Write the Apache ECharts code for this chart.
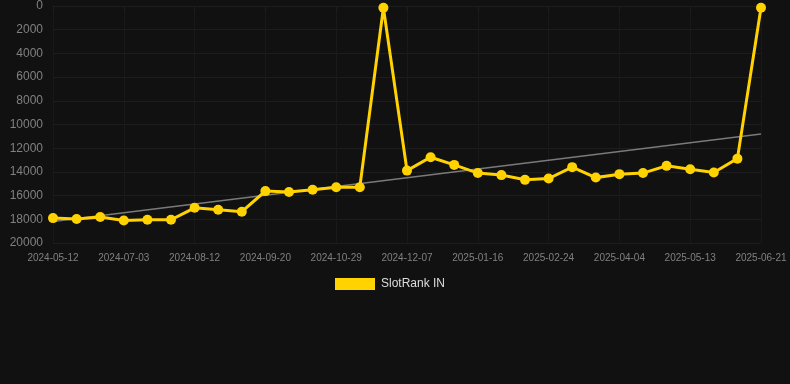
<!DOCTYPE html>
<html>
<head>
<meta charset="utf-8">
<script src="https://cdn.jsdelivr.net/npm/echarts@6/dist/echarts.min.js"></script>
<style>
  html, body { margin: 0; padding: 0; background: #111111; }
  #chart { width: 790px; height: 384px; }
</style>
</head>
<body>
<div id="chart"></div>
<script>
// dates on the x axis (every third one is labelled)
const dates = [
  '2024-05-12', '2024-05-29', '2024-06-16', '2024-07-03', '2024-07-16', '2024-07-29',
  '2024-08-12', '2024-08-25', '2024-09-07', '2024-09-20', '2024-10-03', '2024-10-16',
  '2024-10-29', '2024-11-11', '2024-11-24', '2024-12-07', '2024-12-20', '2025-01-03',
  '2025-01-16', '2025-01-29', '2025-02-11', '2025-02-24', '2025-03-09', '2025-03-22',
  '2025-04-04', '2025-04-17', '2025-04-30', '2025-05-13', '2025-05-26', '2025-06-08',
  '2025-06-21',
];

// rank values
const rankIN = [
  17900, 17980, 17810, 18100, 18040, 18040,
  17030, 17200, 17360, 15620, 15700, 15510,
  15290, 15290, 150, 13890, 12760, 13410,
  14100, 14270, 14670, 14560, 13600, 14480,
  14190, 14100, 13490, 13770, 14050, 12880,
  150,
];

// trend line, start and end value
const trendEnds = [18180, 10800];

const trendData = dates.map((d, i) => {
  if (i === 0) return trendEnds[0];
  if (i === dates.length - 1) return trendEnds[1];
  return null;
});

const myChart = echarts.init(document.getElementById('chart'));

const option = {
  backgroundColor: '#111111',
  animation: false,
  grid: {
    left: 53,
    right: 29,
    top: 6,
    bottom: 141,
  },
  legend: {
    top: 278,
    left: 335,
    padding: 0,
    itemWidth: 40,
    itemHeight: 12,
    itemGap: 10,
    data: [{ name: 'SlotRank IN', icon: 'rect' }],
    textStyle: {
      color: '#dddddd',
      fontSize: 12,
      padding: [0, 0, 0, 1],
      fontFamily: 'Liberation Sans, Arial, sans-serif',
    },
  },
  xAxis: {
    type: 'category',
    data: dates,
    boundaryGap: false,
    axisLine: { show: false },
    axisTick: {
      show: true,
      interval: 2,
      lineStyle: { color: '#1e1e1e' },
    },
    axisLabel: {
      interval: 2,
      color: '#808080',
      fontSize: 10,
      margin: 10,
      fontFamily: 'Liberation Sans, Arial, sans-serif',
    },
    splitLine: {
      show: true,
      interval: 2,
      lineStyle: { color: '#191919' },
    },
  },
  yAxis: {
    type: 'value',
    inverse: true,
    min: 0,
    max: 20000,
    interval: 2000,
    axisLine: { show: false },
    axisTick: { show: false },
    axisLabel: {
      color: '#808080',
      fontSize: 12,
      margin: 10,
      fontFamily: 'Liberation Sans, Arial, sans-serif',
      formatter: (v) => String(v),
    },
    splitLine: {
      lineStyle: { color: '#1d1d1d' },
    },
  },
  series: [
    {
      name: 'trend',
      type: 'line',
      data: trendData,
      connectNulls: true,
      symbol: 'none',
      silent: true,
      lineStyle: { color: '#7a7a7a', width: 1.5 },
      z: 1,
    },
    {
      name: 'SlotRank IN',
      type: 'line',
      data: rankIN,
      color: '#ffd200',
      symbol: 'circle',
      symbolSize: 10,
      lineStyle: {
        color: '#ffd200',
        width: 3,
        join: 'miter',
        miterLimit: 10,
      },
      itemStyle: { color: '#ffd200' },
      z: 2,
    },
  ],
};

myChart.setOption(option);
</script>
</body>
</html>
